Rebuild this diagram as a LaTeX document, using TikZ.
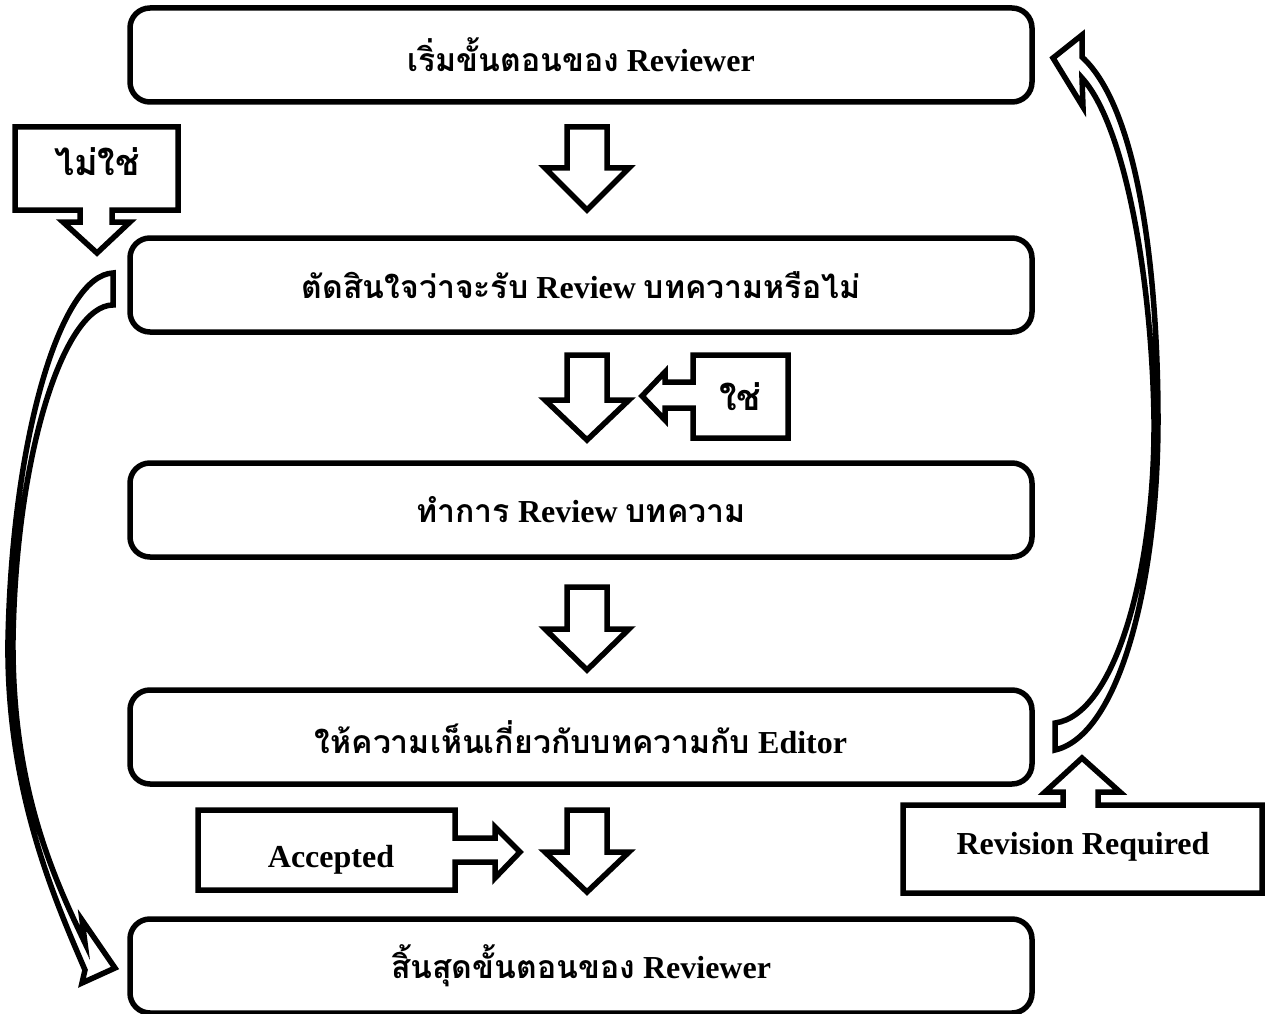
\documentclass[tikz,border=0pt]{standalone}
\usepackage{fontspec}
\setmainfont{Liberation Serif}
\newfontfamily\thaifont[Script=Thai]{Loma}
\newcommand\thx[1]{{\thaifont #1}}
\newcommand\dnarrow[4]{% cx, ytop, ybase, ytip
  \draw[blockarrow] ({#1-20},#2) -- ({#1+20},#2) -- ({#1+20},#3) -- ({#1+42},#3) -- (#1,#4) -- ({#1-42},#3) -- ({#1-20},#3) -- cycle;}
\begin{document}
\begin{tikzpicture}[x=1pt,y=-1pt,
  stepbox/.style={draw, line width=5.5pt, rounded corners=20pt, minimum width=902pt, minimum height=94pt, inner sep=0pt, fill=white},
  blockarrow/.style={draw, line width=5.5pt, fill=white, line join=miter},
  lbl/.style={inner sep=0pt},
  every node/.style={font=\fontsize{32}{38}\selectfont\bfseries}]
\useasboundingbox (0,0) rectangle (1272,1014);
\fill[white] (0,0) rectangle (1272,1014);

\node[stepbox] (b1) at (581,55) {\thx{เริ่มขั้นตอนของ} Reviewer};
\node[stepbox] (b2) at (581,285) {\thx{ตัดสินใจว่าจะรับ} Review \thx{บทความหรือไม่}};
\node[stepbox] (b3) at (581,510) {\thx{ทำการ} Review \thx{บทความ}};
\node[stepbox] (b4) at (581,737) {\thx{ให้ความเห็นเกี่ยวกับบทความกับ} Editor};
\node[stepbox] (b5) at (581,966) {\thx{สิ้นสุดขั้นตอนของ} Reviewer};

% straight block arrows
\dnarrow{587}{127}{168}{210}
\dnarrow{587}{355}{400}{440}
\dnarrow{587}{587}{629}{670}
\dnarrow{587}{810}{852}{892}

% callout: ไม่ใช่
\draw[blockarrow] (15,127) -- (178,127) -- (178,210) -- (112,210) -- (112,222) -- (130,222) -- (97,253) -- (63,222) -- (80,222) -- (80,210) -- (15,210) -- cycle;
\node[lbl] (no) at (97,162) {\thx{\fontsize{36}{40}\selectfont ไม่ใช่}};

% callout: ใช่
\draw[blockarrow] (693,355) -- (788,355) -- (788,438) -- (693,438) -- (693,408) -- (665,408) -- (665,420) -- (642,396) -- (665,372) -- (665,382) -- (693,382) -- cycle;
\node[lbl] (yes) at (740,397) {\thx{\fontsize{36}{40}\selectfont ใช่}};

% callout: Accepted
\draw[blockarrow] (198,810) -- (455,810) -- (455,838) -- (495,838) -- (495,827) -- (520,852) -- (495,878) -- (495,862) -- (455,862) -- (455,890) -- (198,890) -- cycle;
\node[lbl] (acc) at (331,860) {Accepted};

% callout: Revision Required
\draw[blockarrow] (903,805) -- (1063,805) -- (1063,792) -- (1045,792) -- (1082,758) -- (1120,792) -- (1098,792) -- (1098,805) -- (1262,805) -- (1262,893) -- (903,893) -- cycle;
\node[lbl] (rev) at (1083,847) {Revision Required};

% curved arrow left (ไม่ใช่ path)
\draw[blockarrow] (113,273) .. controls (60,275) and (12,440) .. (8,640)
  .. controls (6,790) and (55,900) .. (85,970) -- (82,983) -- (115,968) -- (82,920) -- (85,943)
  .. controls (55,880) and (12,790) .. (13,640) .. controls (16,450) and (65,305) .. (113,305) -- cycle;

% curved arrow right (Revision path)
\draw[blockarrow] (1055,723) .. controls (1115,715) and (1155,570) .. (1154,420)
  .. controls (1152,280) and (1125,125) .. (1082,78) -- (1083,107) -- (1053,58) -- (1082,35) -- (1082,57)
  .. controls (1140,110) and (1158,280) .. (1158,420) .. controls (1158,580) and (1120,735) .. (1055,750) -- cycle;
\end{tikzpicture}
\end{document}
